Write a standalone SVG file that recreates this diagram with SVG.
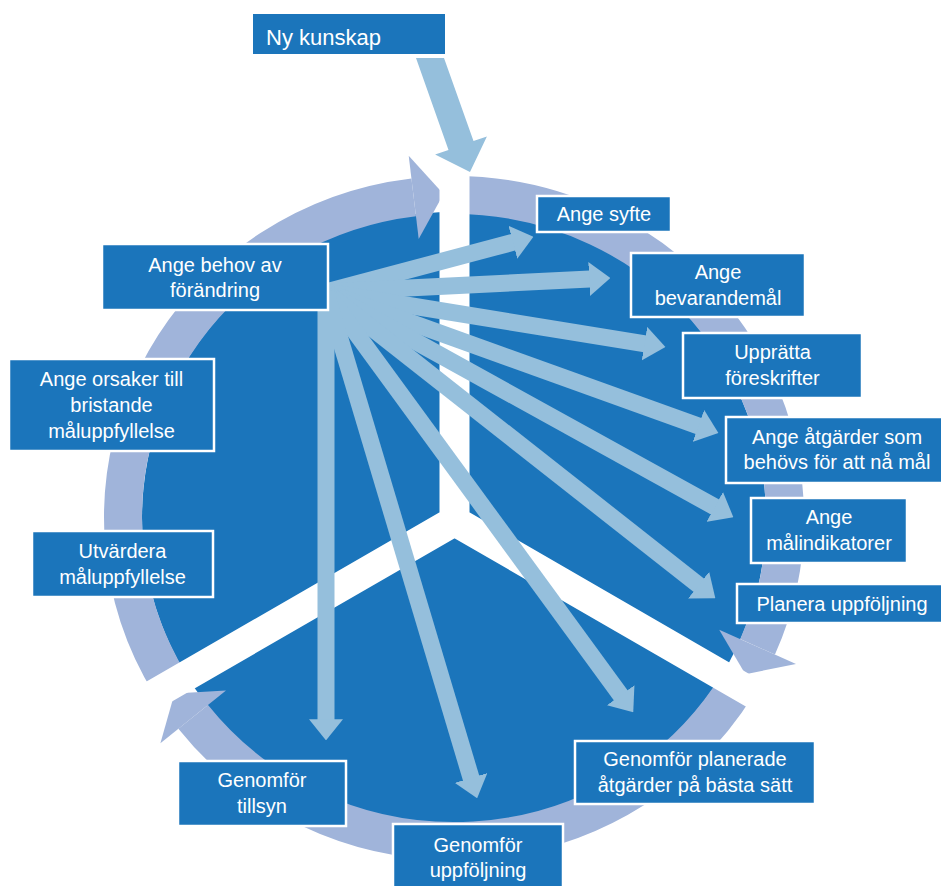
<svg xmlns="http://www.w3.org/2000/svg" width="941" height="886" viewBox="0 0 941 886">
<style>
.box{fill:#1b75bb;stroke:#ffffff;stroke-width:2.5}
.t{font-family:"Liberation Sans",Arial,sans-serif;font-size:20px;fill:#ffffff;text-anchor:middle}
.ring{fill:none;stroke:#a0b4da;stroke-width:38;stroke-linecap:butt}
.head{fill:#a0b4da}
.fan{stroke:#95bfdc;stroke-width:17;stroke-linecap:butt;marker-end:url(#ah)}
</style>
<defs>
<marker id="ah" viewBox="-0.05 -1 1.25 2" refX="0" refY="0" markerWidth="1.25" markerHeight="2" markerUnits="strokeWidth" orient="auto">
<path d="M-0.05,-1 L1.2,0 L-0.05,1 z" fill="#95bfdc"/>
</marker>
</defs>
<rect width="941" height="886" fill="#ffffff"/>
<g id="cycle">
<ellipse cx="454" cy="518" rx="312" ry="306" fill="#1b75bb"/>
<path class="ring" d="M170.3,684.3 A331,323 0 0 1 413.7,197.4"/>
<polygon class="head" points="418.7,239.1 443.5,193.9 408.7,155.7"/>
<path class="ring" d="M448.2,195.05 A331,323 0 0 1 757.6,646.8"/>
<polygon class="head" points="796.0,663.9 745.4,674.2 719.2,629.7"/>
<path class="ring" d="M737.7,684.4 A331,323 0 0 1 193.2,716.9"/>
<polygon class="head" points="226.0,690.6 174.5,693.5 160.4,743.2"/>
<path d="M454.5,140 L454.5,521 L90.8,731 M454.5,521 L818.2,731" fill="none" stroke="#ffffff" stroke-width="30" stroke-linejoin="miter"/>
</g>
<g id="connectors">
<polygon points="416,58 444,58 473.5,141.1 486.9,136.4 470,172 435.1,154.6 448.5,149.9" fill="#95bfdc"/>
<line class="fan" x1="326" y1="292" x2="513.7" y2="242.1"/>
<line class="fan" x1="326" y1="292" x2="590.0" y2="279.0"/>
<line class="fan" x1="326" y1="292" x2="645.3" y2="343.8"/>
<line class="fan" x1="326" y1="292" x2="699.2" y2="426.2"/>
<line class="fan" x1="326" y1="292" x2="715.5" y2="507.3"/>
<line class="fan" x1="326" y1="292" x2="699.3" y2="585.6"/>
<line class="fan" x1="326" y1="292" x2="621.2" y2="695.9"/>
<line class="fan" x1="326" y1="292" x2="471.3" y2="778.8"/>
<line class="fan" x1="326" y1="292" x2="326" y2="720"/>
</g>
<g id="ny-kunskap">
<rect class="box" x="253" y="14" width="192" height="40" style="stroke:none"/>
<text class="t" x="266" y="45" style="font-size:22px;text-anchor:start">Ny kunskap</text>
</g>
<g id="ange-syfte">
<rect class="box" x="537" y="196" width="134" height="36"/>
<text class="t" x="604" y="221">Ange syfte</text>
</g>
<g id="ange-bevarandemal">
<rect class="box" x="631" y="253" width="174" height="64"/>
<text class="t" x="718" y="279">Ange</text>
<text class="t" x="718" y="304.5">bevarandemål</text>
</g>
<g id="uppratta-foreskrifter">
<rect class="box" x="683" y="333" width="179" height="65"/>
<text class="t" x="772.5" y="359">Upprätta</text>
<text class="t" x="772.5" y="384.5">föreskrifter</text>
</g>
<g id="ange-atgarder">
<rect class="box" x="726" y="417" width="222" height="66"/>
<text class="t" x="837" y="443.5">Ange åtgärder som</text>
<text class="t" x="837" y="469">behövs för att nå mål</text>
</g>
<g id="ange-malindikatorer">
<rect class="box" x="751" y="498" width="156" height="65"/>
<text class="t" x="829" y="524">Ange</text>
<text class="t" x="829" y="549.5">målindikatorer</text>
</g>
<g id="planera-uppfoljning">
<rect class="box" x="737" y="584" width="210" height="39"/>
<text class="t" x="842" y="610.5">Planera uppföljning</text>
</g>
<g id="genomfor-planerade">
<rect class="box" x="575" y="741" width="240" height="63"/>
<text class="t" x="695" y="766">Genomför planerade</text>
<text class="t" x="695" y="791.5">åtgärder på bästa sätt</text>
</g>
<g id="genomfor-uppfoljning">
<rect class="box" x="393" y="824" width="170" height="70"/>
<text class="t" x="478" y="852">Genomför</text>
<text class="t" x="478" y="877">uppföljning</text>
</g>
<g id="genomfor-tillsyn">
<rect class="box" x="178" y="761" width="168" height="65"/>
<text class="t" x="262" y="787">Genomför</text>
<text class="t" x="262" y="812.5">tillsyn</text>
</g>
<g id="utvardera">
<rect class="box" x="32" y="531" width="181" height="66"/>
<text class="t" x="122.5" y="558">Utvärdera</text>
<text class="t" x="122.5" y="584">måluppfyllelse</text>
</g>
<g id="ange-orsaker">
<rect class="box" x="9" y="359" width="205" height="92"/>
<text class="t" x="111.5" y="385.5">Ange orsaker till</text>
<text class="t" x="111.5" y="411.5">bristande</text>
<text class="t" x="111.5" y="437.5">måluppfyllelse</text>
</g>
<g id="ange-behov">
<rect class="box" x="102" y="244" width="226" height="66"/>
<text class="t" x="215" y="272">Ange behov av</text>
<text class="t" x="215" y="297">förändring</text>
</g>
</svg>
